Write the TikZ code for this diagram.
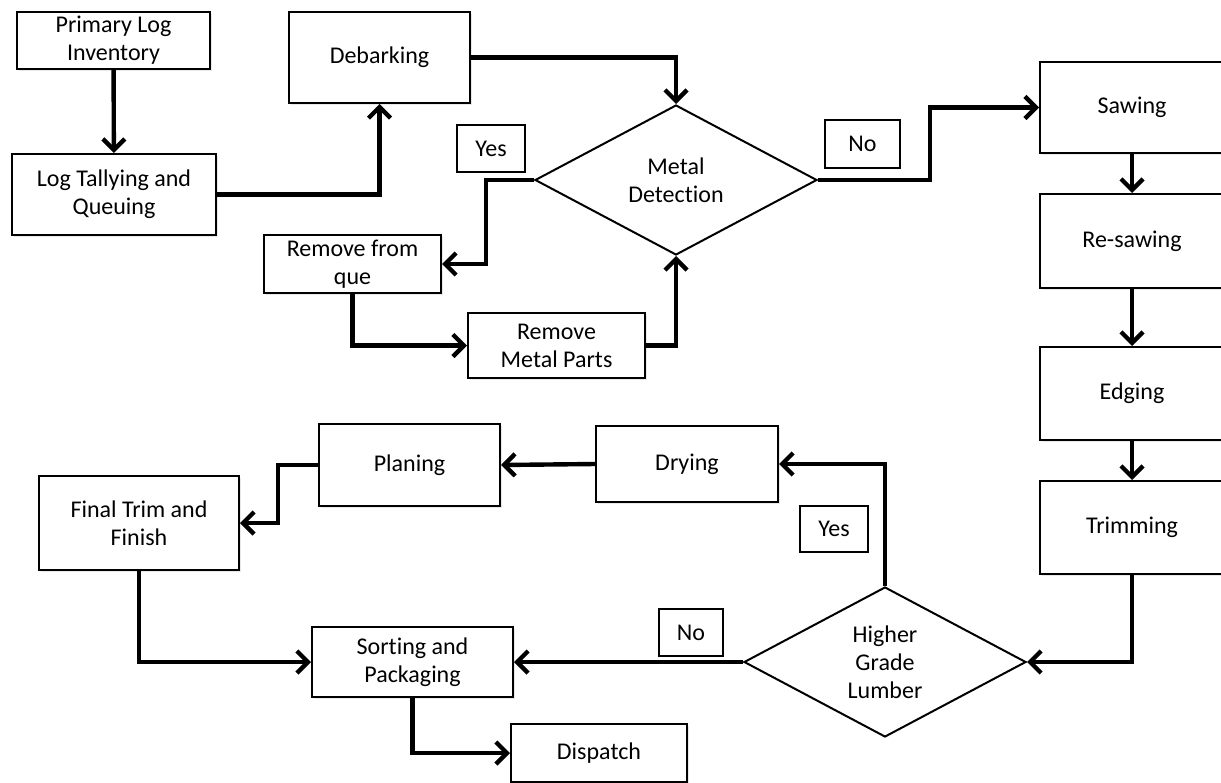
\documentclass[tikz,border=0pt]{standalone}
\usepackage{fontspec}
\setmainfont{Carlito}[Ligatures=NoCommon]
\usetikzlibrary{arrows.meta,shapes.geometric,shadows}

\begin{document}
\begin{tikzpicture}[
  x=0.5pt, y=-0.5pt,
  >={Straight Barb[length=5.5pt,width=11pt]},
  font=\fontsize{12}{14}\selectfont,
  box/.style={draw, line width=1pt, fill=white, inner sep=0pt, align=center,
              drop shadow={shadow xshift=1pt, shadow yshift=-1pt, opacity=0.18}},
  decision/.style={diamond, draw, line width=1pt, fill=white, inner sep=0pt,
                   minimum width=141pt, minimum height=75pt, align=center},
  tag/.style={draw, line width=0.9pt, fill=white, inner sep=0pt},
  flow/.style={->, line width=2.2pt}
]
  \useasboundingbox (0,0) rectangle (1221,782);
  \clip (0,0) rectangle (1221,782);

  % --- Intake and debarking ---
  \node[box, minimum width=96.5pt, minimum height=28.5pt] (prim) at (113.5,40.5)
       {Primary Log\\Inventory};
  \node[box, minimum width=102pt, minimum height=40.5pt] (tally) at (114,194.5)
       {Log Tallying and\\Queuing};
  \node[box, minimum width=90.5pt, minimum height=45.5pt] (debark) at (379.5,57.5)
       {Debarking};

  % --- Metal check loop ---
  \node[decision] (metal) at (676,180) {Metal\\Detection};
  \node[box, minimum width=88.5pt, minimum height=29pt] (que) at (352.5,264)
       {Remove from\\que};
  \node[box, minimum width=88.5pt, minimum height=32.5pt] (parts) at (556.5,345.5)
       {Remove\\Metal Parts};
  \node[tag, minimum width=34pt, minimum height=23.5pt] (yesA) at (491,148.5) {Yes};
  \node[tag, minimum width=37.5pt, minimum height=24pt] (noA) at (862.5,144) {No};

  % --- Saw line (right column) ---
  \node[box, minimum width=92pt, minimum height=45.5pt] (saw) at (1132,107.5) {Sawing};
  \node[box, minimum width=92pt, minimum height=47pt] (resaw) at (1132,241) {Re-sawing};
  \node[box, minimum width=92pt, minimum height=46.5pt] (edge) at (1132,393.5) {Edging};
  \node[box, minimum width=92pt, minimum height=46.5pt] (trim) at (1132,527.5) {Trimming};

  % --- Grading and finishing ---
  \node[decision] (grade) at (885,662) {Higher\\Grade\\Lumber};
  \node[tag, minimum width=34pt, minimum height=23pt] (yesB) at (834,529) {Yes};
  \node[tag, minimum width=32pt, minimum height=23.5pt] (noB) at (691,632.5) {No};
  \node[box, minimum width=91pt, minimum height=38pt] (dry) at (687,464) {Drying};
  \node[box, minimum width=90.5pt, minimum height=41pt] (plan) at (409.5,465) {Planing};
  \node[box, minimum width=100pt, minimum height=47pt] (final) at (139,523)
       {Final Trim and\\Finish};
  \node[box, minimum width=100.5pt, minimum height=35pt] (sort) at (412.5,662)
       {Sorting and\\Packaging};
  \node[box, minimum width=88pt, minimum height=29pt] (disp) at (599,753) {Dispatch};

  % --- Connectors ---
  \draw[flow] (prim) -- (tally);
  \draw[flow] (tally.east) -| (debark.south);
  \draw[flow] (debark.east) -| (metal.north);
  \draw[flow] (metal.west) -- +(-48,0) |- (que.east);
  \draw[flow] (que.south) |- (parts.west);
  \draw[flow] (parts.east) -| (metal.south);
  \draw[flow] (metal.east) -- +(112,0) |- (saw.west);
  \draw[flow] (saw) -- (resaw);
  \draw[flow] (resaw) -- (edge);
  \draw[flow] (edge) -- (trim);
  \draw[flow] (trim.south) |- (grade.east);
  \draw[flow] (grade.north) |- (dry.east);
  \draw[flow] (dry.west) -- (plan.east);
  \draw[flow] (plan.west) -- +(-40,0) |- (final.east);
  \draw[flow] (final.south) |- (sort.west);
  \draw[flow] (grade.west) -- (sort.east);
  \draw[flow] (sort.south) |- (disp.west);
\end{tikzpicture}
\end{document}
